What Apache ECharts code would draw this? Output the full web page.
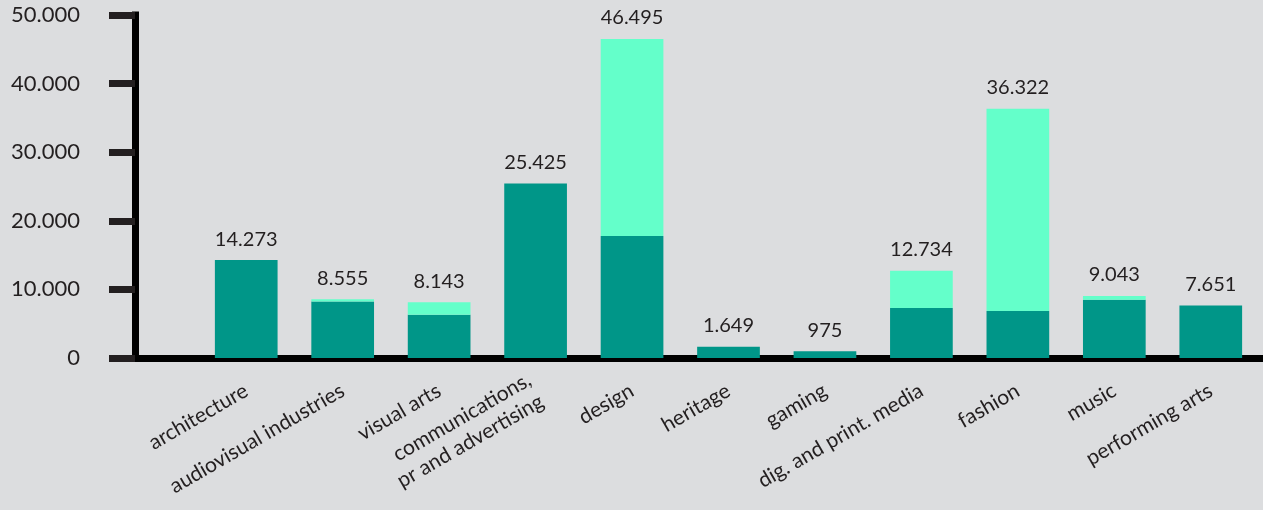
<!DOCTYPE html>
<html>
<head>
<meta charset="utf-8">
<script src="https://cdn.jsdelivr.net/npm/echarts@6/dist/echarts.min.js"></script>
<style>
html,body{margin:0;padding:0;background:#dcdddf;}
#chart{width:1263px;height:510px;}
</style>
</head>
<body>
<div id="chart"></div>
<script>
const categories = ['architecture','audiovisual industries','visual arts','communications,\npr and advertising','design','heritage','gaming','dig. and print. media','fashion','music','performing arts'];
const darkValues = [14273, 8250, 6300, 25425, 17800, 1649, 975, 7300, 6850, 8500, 7651];
const lightValues = [0, 305, 1843, 0, 28695, 0, 0, 5434, 29472, 543, 0];
const totals = [14273, 8555, 8143, 25425, 46495, 1649, 975, 12734, 36322, 9043, 7651];
const yTicks = [0, 10000, 20000, 30000, 40000, 50000];

function fmt(v){ return String(v).replace(/\B(?=(\d{3})+(?!\d))/g, '.'); }

const FONT = 'Lato';
const TXT = '#231f20';
const chart = echarts.init(document.getElementById('chart'));
chart.setOption({
  backgroundColor: '#dcdddf',
  animation: false,
  textStyle: { fontFamily: FONT },
  grid: [
    { left: 198, right: 4, top: 15, bottom: 152 },
    { left: 135, right: 0, top: 15, bottom: 152 }
  ],
  xAxis: [
    {
      type: 'category', gridIndex: 0, data: categories,
      axisLine: { show: false }, axisTick: { show: false },
      axisLabel: { rotate: 30, margin: 31, fontSize: 21, color: TXT, fontFamily: FONT, interval: 0, lineHeight: 25 }
    },
    {
      type: 'value', gridIndex: 1, min: 0, max: 1,
      axisLine: { show: true, lineStyle: { color: '#000', width: 7, cap: 'square' } },
      axisTick: { show: false }, axisLabel: { show: false }, splitLine: { show: false }
    }
  ],
  yAxis: [
    { type: 'value', gridIndex: 0, min: yTicks[0], max: yTicks[yTicks.length-1], interval: 10000, show: false, splitLine: { show: false } },
    {
      type: 'value', gridIndex: 1, min: yTicks[0], max: yTicks[yTicks.length-1], interval: 10000,
      axisLine: { show: true, lineStyle: { color: '#000', width: 7, cap: 'square' } },
      axisTick: { show: true, length: 26, lineStyle: { color: TXT, width: 7 } },
      axisLabel: { margin: 55, fontSize: 22, color: TXT, fontFamily: FONT, formatter: v => fmt(v) },
      splitLine: { show: false }
    }
  ],
  series: [
    {
      type: 'bar', xAxisIndex: 0, yAxisIndex: 0, stack: 'a', barWidth: '65%',
      data: darkValues, itemStyle: { color: '#009688' }, z: 1
    },
    {
      type: 'bar', xAxisIndex: 0, yAxisIndex: 0, stack: 'a', barWidth: '65%',
      data: lightValues, itemStyle: { color: '#64ffca' }, z: 1,
      label: {
        show: true, position: 'top', distance: 11, fontSize: 20, color: TXT, fontFamily: FONT,
        formatter: p => fmt(totals[p.dataIndex])
      }
    }
  ]
});
</script>
</body>
</html>
